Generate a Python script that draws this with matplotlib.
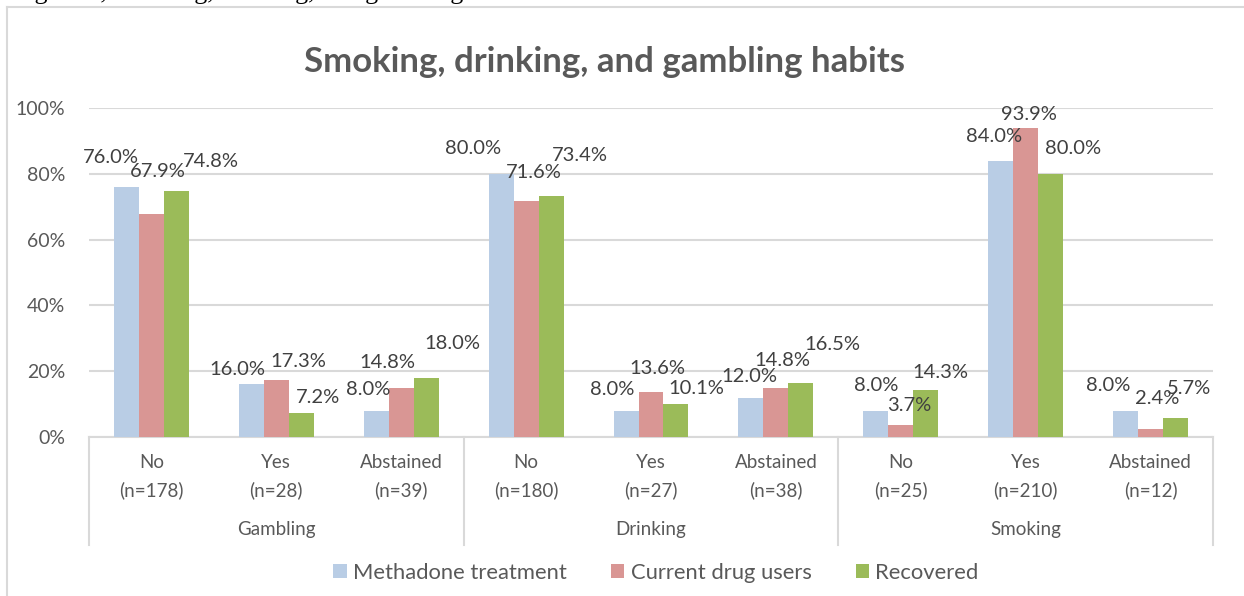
import matplotlib
matplotlib.use("Agg")
import matplotlib.pyplot as plt
from matplotlib.patches import Patch
import numpy as np

plt.rcParams['font.family'] = ['Lato', 'DejaVu Sans']

# values (%) per subgroup, in display order
groups = ["Gambling", "Drinking", "Smoking"]
answers = ["No", "Yes", "Abstained"]
counts = ["(n=178)", "(n=28)", "(n=39)",
          "(n=180)", "(n=27)", "(n=38)",
          "(n=25)", "(n=210)", "(n=12)"]
series = ["Methadone treatment", "Current drug users", "Recovered"]
methadone = [76.0, 16.0, 8.0, 80.0, 8.0, 12.0, 8.0, 84.0, 8.0]
current = [67.9, 17.3, 14.8, 71.6, 13.6, 14.8, 3.7, 93.9, 2.4]
recovered = [74.8, 7.2, 18.0, 73.4, 10.1, 16.5, 14.3, 80.0, 5.7]
yticks = [0, 20, 40, 60, 80, 100]

colors = ["#B9CDE5", "#D99694", "#9BBB59"]
grey = "#D9D9D9"
text_grey = "#595959"

# label nudges (pixels): (dx, rise above bar top) for each series
nudge = [
    [(-16, 29), (-14, 15), (-8, 21), (-28, 25), (-14, 21), (-2, 21), (0, 25), (-7, 24), (-17, 25)],
    [(6, 42), (22, 19), (-14, 26), (8, 29), (6, 24), (6, 28), (8, 19), (3, 14), (7, 31)],
    [(34, 29), (17, 16), (26, 34), (29, 40), (20, 15), (31, 38), (15, 17), (22, 25), (13, 30)],
]

W, H = 1244, 596
fig = plt.figure(figsize=(W / 100, H / 100), dpi=100)

# plot area in pixels
x0, x1, ytop, ybot = 89, 1213, 108, 437
ax = fig.add_axes([x0 / W, (H - ybot) / H, (x1 - x0) / W, (ybot - ytop) / H])

def ay(py):
    # pixel row -> axes fraction
    return (ybot - py) / (ybot - ytop)

x = np.arange(len(counts))
bw = 0.2
for i, (vals, c) in enumerate(zip([methadone, current, recovered], colors)):
    pos = x + (i - 1) * bw
    ax.bar(pos, vals, width=bw, color=c, zorder=3, label=series[i])
    for j, v in enumerate(vals):
        dx, up = nudge[i][j]
        ax.annotate(f"{v:.1f}%", (pos[j], v), xytext=(dx, up),
                    textcoords="offset pixels", ha="center", va="center",
                    fontsize=14.5, color="#404040", zorder=5)

ax.set_xlim(-0.5, len(counts) - 0.5)
ax.set_ylim(0, 100)
ax.set_yticks(yticks)
ax.set_yticklabels([f"{t}%" for t in yticks])
ax.tick_params(axis="y", length=0, pad=17, labelsize=14, labelcolor=text_grey)
ax.set_xticks([])
ax.yaxis.grid(True, color=grey, linewidth=1.5, zorder=0)
for s in ["left", "right", "top"]:
    ax.spines[s].set_visible(False)
ax.spines["bottom"].set_color(grey)
ax.spines["bottom"].set_linewidth(1.5)

# two-level category axis
tr = ax.get_xaxis_transform()
for j in range(len(counts)):
    ax.text(j, ay(463), answers[j % 3], transform=tr, ha="center", va="center",
            fontsize=13.5, color=text_grey)
    ax.text(j, ay(490), counts[j], transform=tr, ha="center", va="center",
            fontsize=13.5, color=text_grey)
for g, name in enumerate(groups):
    ax.text(g * 3 + 1, ay(530), name, transform=tr, ha="center", va="center",
            fontsize=13.5, color=text_grey)
for b in [-0.5, 2.5, 5.5, 8.5]:
    ax.plot([b, b], [0, ay(545)], transform=tr, color=grey, lw=1.5, clip_on=False)

fig.text(605 / W, (H - 62) / H, "Smoking, drinking, and gambling habits",
         ha="center", va="center", fontsize=25, fontweight="bold", color=text_grey)

handles = [Patch(facecolor=c, label=s) for c, s in zip(colors, series)]
fig.legend(handles=handles, loc="center", bbox_to_anchor=(656 / W, (H - 573) / H),
           ncol=3, frameon=False, fontsize=15.8, handlelength=0.6, handleheight=0.6,
           handletextpad=0.3, columnspacing=2.0, labelcolor=text_grey)

# chart frame (left and top edges) and caption line above it
fig.add_artist(plt.Line2D([7 / W, 7 / W], [0, (H - 7) / H], color=grey, lw=1.5))
fig.add_artist(plt.Line2D([7 / W, 1], [(H - 7) / H, (H - 7) / H], color=grey, lw=1.5))
fig.text(13 / W, (H + 1) / H, "Figure 3, Smoking, drinking, and gambling habits",
         ha="left", va="baseline", fontsize=18.7, family="Liberation Serif", color="black")

fig.savefig("out.png", dpi=100, facecolor="white")
